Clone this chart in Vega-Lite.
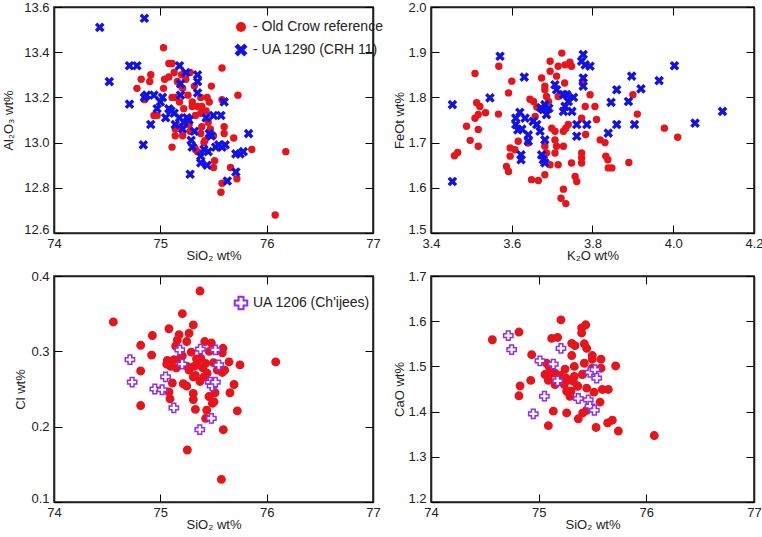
{
  "$schema": "https://vega.github.io/schema/vega-lite/v6.json",
  "padding": {"left": 1, "top": 0, "right": 0, "bottom": 0},
  "config": {
    "view": {"stroke": "#222222", "strokeWidth": 1.6}
  },
  "datasets": {
    "p1": [
      {"series":"- Old Crow reference","SiO2":75.03,"Al2O3":13.42},{"series":"- Old Crow reference","SiO2":75.08,"Al2O3":13.35},{"series":"- Old Crow reference","SiO2":75.11,"Al2O3":13.35},{"series":"- Old Crow reference","SiO2":74.82,"Al2O3":13.28},{"series":"- Old Crow reference","SiO2":74.91,"Al2O3":13.30},{"series":"- Old Crow reference","SiO2":74.90,"Al2O3":13.27},{"series":"- Old Crow reference","SiO2":74.78,"Al2O3":13.24},{"series":"- Old Crow reference","SiO2":75.04,"Al2O3":13.28},{"series":"- Old Crow reference","SiO2":75.08,"Al2O3":13.29},{"series":"- Old Crow reference","SiO2":75.13,"Al2O3":13.31},{"series":"- Old Crow reference","SiO2":75.03,"Al2O3":13.24},{"series":"- Old Crow reference","SiO2":75.14,"Al2O3":13.20},{"series":"- Old Crow reference","SiO2":75.11,"Al2O3":13.20},{"series":"- Old Crow reference","SiO2":75.28,"Al2O3":13.31},{"series":"- Old Crow reference","SiO2":75.24,"Al2O3":13.28},{"series":"- Old Crow reference","SiO2":75.21,"Al2O3":13.24},{"series":"- Old Crow reference","SiO2":75.26,"Al2O3":13.21},{"series":"- Old Crow reference","SiO2":75.30,"Al2O3":13.18},{"series":"- Old Crow reference","SiO2":75.32,"Al2O3":13.25},{"series":"- Old Crow reference","SiO2":75.38,"Al2O3":13.20},{"series":"- Old Crow reference","SiO2":75.44,"Al2O3":13.20},{"series":"- Old Crow reference","SiO2":75.46,"Al2O3":13.18},{"series":"- Old Crow reference","SiO2":75.48,"Al2O3":13.25},{"series":"- Old Crow reference","SiO2":75.58,"Al2O3":13.33},{"series":"- Old Crow reference","SiO2":75.73,"Al2O3":13.21},{"series":"- Old Crow reference","SiO2":75.58,"Al2O3":13.19},{"series":"- Old Crow reference","SiO2":75.22,"Al2O3":13.15},{"series":"- Old Crow reference","SiO2":75.30,"Al2O3":13.16},{"series":"- Old Crow reference","SiO2":75.35,"Al2O3":13.16},{"series":"- Old Crow reference","SiO2":75.39,"Al2O3":13.16},{"series":"- Old Crow reference","SiO2":75.43,"Al2O3":13.14},{"series":"- Old Crow reference","SiO2":75.33,"Al2O3":13.12},{"series":"- Old Crow reference","SiO2":75.38,"Al2O3":13.13},{"series":"- Old Crow reference","SiO2":74.94,"Al2O3":13.12},{"series":"- Old Crow reference","SiO2":74.97,"Al2O3":13.12},{"series":"- Old Crow reference","SiO2":74.85,"Al2O3":13.19},{"series":"- Old Crow reference","SiO2":75.14,"Al2O3":13.06},{"series":"- Old Crow reference","SiO2":75.14,"Al2O3":13.03},{"series":"- Old Crow reference","SiO2":75.21,"Al2O3":13.03},{"series":"- Old Crow reference","SiO2":75.11,"Al2O3":12.98},{"series":"- Old Crow reference","SiO2":75.32,"Al2O3":12.98},{"series":"- Old Crow reference","SiO2":75.33,"Al2O3":12.97},{"series":"- Old Crow reference","SiO2":75.41,"Al2O3":13.00},{"series":"- Old Crow reference","SiO2":75.42,"Al2O3":13.01},{"series":"- Old Crow reference","SiO2":75.35,"Al2O3":12.96},{"series":"- Old Crow reference","SiO2":75.50,"Al2O3":13.03},{"series":"- Old Crow reference","SiO2":75.51,"Al2O3":12.92},{"series":"- Old Crow reference","SiO2":75.50,"Al2O3":12.89},{"series":"- Old Crow reference","SiO2":75.60,"Al2O3":13.07},{"series":"- Old Crow reference","SiO2":75.60,"Al2O3":13.04},{"series":"- Old Crow reference","SiO2":75.69,"Al2O3":13.02},{"series":"- Old Crow reference","SiO2":75.66,"Al2O3":12.89},{"series":"- Old Crow reference","SiO2":75.72,"Al2O3":12.84},{"series":"- Old Crow reference","SiO2":75.58,"Al2O3":12.82},{"series":"- Old Crow reference","SiO2":75.57,"Al2O3":12.78},{"series":"- Old Crow reference","SiO2":75.86,"Al2O3":12.97},{"series":"- Old Crow reference","SiO2":76.18,"Al2O3":12.96},{"series":"- Old Crow reference","SiO2":76.08,"Al2O3":12.68},{"series":"- Old Crow reference","SiO2":75.38,"Al2O3":13.04},{"series":"- Old Crow reference","SiO2":75.39,"Al2O3":13.07},{"series":"- Old Crow reference","SiO2":75.25,"Al2O3":13.10},{"series":"- Old Crow reference","SiO2":75.19,"Al2O3":13.07},{"series":"- Old Crow reference","SiO2":75.27,"Al2O3":13.08},{"series":"- Old Crow reference","SiO2":75.45,"Al2O3":13.09},{"series":"- Old Crow reference","SiO2":75.28,"Al2O3":13.05},{"series":"- Old Crow reference","SiO2":75.47,"Al2O3":13.06},{"series":"- Old Crow reference","SiO2":75.18,"Al2O3":13.18},{"series":"- Old Crow reference","SiO2":75.16,"Al2O3":13.27},{"series":"- Old Crow reference","SiO2":75.20,"Al2O3":13.30},
      {"series":"- UA 1290 (CRH 11)","SiO2":74.43,"Al2O3":13.51},{"series":"- UA 1290 (CRH 11)","SiO2":74.85,"Al2O3":13.55},{"series":"- UA 1290 (CRH 11)","SiO2":74.52,"Al2O3":13.27},{"series":"- UA 1290 (CRH 11)","SiO2":74.71,"Al2O3":13.34},{"series":"- UA 1290 (CRH 11)","SiO2":74.78,"Al2O3":13.34},{"series":"- UA 1290 (CRH 11)","SiO2":74.71,"Al2O3":13.17},{"series":"- UA 1290 (CRH 11)","SiO2":74.85,"Al2O3":13.20},{"series":"- UA 1290 (CRH 11)","SiO2":74.87,"Al2O3":13.21},{"series":"- UA 1290 (CRH 11)","SiO2":74.94,"Al2O3":13.21},{"series":"- UA 1290 (CRH 11)","SiO2":74.91,"Al2O3":13.08},{"series":"- UA 1290 (CRH 11)","SiO2":74.84,"Al2O3":12.99},{"series":"- UA 1290 (CRH 11)","SiO2":74.97,"Al2O3":13.15},{"series":"- UA 1290 (CRH 11)","SiO2":75.02,"Al2O3":13.20},{"series":"- UA 1290 (CRH 11)","SiO2":75.05,"Al2O3":13.11},{"series":"- UA 1290 (CRH 11)","SiO2":75.08,"Al2O3":13.15},{"series":"- UA 1290 (CRH 11)","SiO2":75.13,"Al2O3":13.13},{"series":"- UA 1290 (CRH 11)","SiO2":75.18,"Al2O3":13.34},{"series":"- UA 1290 (CRH 11)","SiO2":75.19,"Al2O3":13.26},{"series":"- UA 1290 (CRH 11)","SiO2":75.19,"Al2O3":13.21},{"series":"- UA 1290 (CRH 11)","SiO2":75.24,"Al2O3":13.31},{"series":"- UA 1290 (CRH 11)","SiO2":75.18,"Al2O3":13.11},{"series":"- UA 1290 (CRH 11)","SiO2":75.14,"Al2O3":13.08},{"series":"- UA 1290 (CRH 11)","SiO2":75.22,"Al2O3":13.09},{"series":"- UA 1290 (CRH 11)","SiO2":75.25,"Al2O3":13.11},{"series":"- UA 1290 (CRH 11)","SiO2":75.21,"Al2O3":13.06},{"series":"- UA 1290 (CRH 11)","SiO2":75.29,"Al2O3":13.01},{"series":"- UA 1290 (CRH 11)","SiO2":75.30,"Al2O3":12.98},{"series":"- UA 1290 (CRH 11)","SiO2":75.28,"Al2O3":12.86},{"series":"- UA 1290 (CRH 11)","SiO2":75.35,"Al2O3":13.30},{"series":"- UA 1290 (CRH 11)","SiO2":75.35,"Al2O3":13.27},{"series":"- UA 1290 (CRH 11)","SiO2":75.35,"Al2O3":13.22},{"series":"- UA 1290 (CRH 11)","SiO2":75.38,"Al2O3":12.94},{"series":"- UA 1290 (CRH 11)","SiO2":75.38,"Al2O3":12.91},{"series":"- UA 1290 (CRH 11)","SiO2":75.44,"Al2O3":12.90},{"series":"- UA 1290 (CRH 11)","SiO2":75.43,"Al2O3":13.11},{"series":"- UA 1290 (CRH 11)","SiO2":75.46,"Al2O3":13.04},{"series":"- UA 1290 (CRH 11)","SiO2":75.48,"Al2O3":13.03},{"series":"- UA 1290 (CRH 11)","SiO2":75.50,"Al2O3":13.12},{"series":"- UA 1290 (CRH 11)","SiO2":75.57,"Al2O3":13.12},{"series":"- UA 1290 (CRH 11)","SiO2":75.60,"Al2O3":13.18},{"series":"- UA 1290 (CRH 11)","SiO2":75.52,"Al2O3":12.98},{"series":"- UA 1290 (CRH 11)","SiO2":75.58,"Al2O3":12.98},{"series":"- UA 1290 (CRH 11)","SiO2":75.61,"Al2O3":12.99},{"series":"- UA 1290 (CRH 11)","SiO2":75.71,"Al2O3":12.95},{"series":"- UA 1290 (CRH 11)","SiO2":75.75,"Al2O3":12.95},{"series":"- UA 1290 (CRH 11)","SiO2":75.78,"Al2O3":12.96},{"series":"- UA 1290 (CRH 11)","SiO2":75.83,"Al2O3":13.04},{"series":"- UA 1290 (CRH 11)","SiO2":75.71,"Al2O3":12.87},{"series":"- UA 1290 (CRH 11)","SiO2":75.63,"Al2O3":12.83},{"series":"- UA 1290 (CRH 11)","SiO2":75.41,"Al2O3":12.97},{"series":"- UA 1290 (CRH 11)","SiO2":75.27,"Al2O3":13.10},{"series":"- UA 1290 (CRH 11)","SiO2":75.32,"Al2O3":13.05},{"series":"- UA 1290 (CRH 11)","SiO2":75.10,"Al2O3":13.14},{"series":"- UA 1290 (CRH 11)","SiO2":75.00,"Al2O3":13.18},{"series":"- UA 1290 (CRH 11)","SiO2":75.45,"Al2O3":12.96},{"series":"- UA 1290 (CRH 11)","SiO2":75.55,"Al2O3":12.99}
    ],
    "p2": [
      {"series":"Old Crow reference","K2O":3.458,"FeOt":1.671},{"series":"Old Crow reference","K2O":3.466,"FeOt":1.678},{"series":"Old Crow reference","K2O":3.488,"FeOt":1.736},{"series":"Old Crow reference","K2O":3.497,"FeOt":1.705},{"series":"Old Crow reference","K2O":3.509,"FeOt":1.853},{"series":"Old Crow reference","K2O":3.509,"FeOt":1.754},{"series":"Old Crow reference","K2O":3.517,"FeOt":1.762},{"series":"Old Crow reference","K2O":3.513,"FeOt":1.788},{"series":"Old Crow reference","K2O":3.521,"FeOt":1.780},{"series":"Old Crow reference","K2O":3.517,"FeOt":1.729},{"series":"Old Crow reference","K2O":3.517,"FeOt":1.692},{"series":"Old Crow reference","K2O":3.535,"FeOt":1.766},{"series":"Old Crow reference","K2O":3.568,"FeOt":1.869},{"series":"Old Crow reference","K2O":3.567,"FeOt":1.763},{"series":"Old Crow reference","K2O":3.592,"FeOt":1.810},{"series":"Old Crow reference","K2O":3.600,"FeOt":1.836},{"series":"Old Crow reference","K2O":3.596,"FeOt":1.688},{"series":"Old Crow reference","K2O":3.596,"FeOt":1.670},{"series":"Old Crow reference","K2O":3.587,"FeOt":1.647},{"series":"Old Crow reference","K2O":3.592,"FeOt":1.636},{"series":"Old Crow reference","K2O":3.608,"FeOt":1.684},{"series":"Old Crow reference","K2O":3.616,"FeOt":1.703},{"series":"Old Crow reference","K2O":3.640,"FeOt":1.699},{"series":"Old Crow reference","K2O":3.645,"FeOt":1.796},{"series":"Old Crow reference","K2O":3.654,"FeOt":1.791},{"series":"Old Crow reference","K2O":3.658,"FeOt":1.758},{"series":"Old Crow reference","K2O":3.662,"FeOt":1.779},{"series":"Old Crow reference","K2O":3.649,"FeOt":1.618},{"series":"Old Crow reference","K2O":3.666,"FeOt":1.616},{"series":"Old Crow reference","K2O":3.674,"FeOt":1.843},{"series":"Old Crow reference","K2O":3.682,"FeOt":1.825},{"series":"Old Crow reference","K2O":3.682,"FeOt":1.817},{"series":"Old Crow reference","K2O":3.686,"FeOt":1.802},{"series":"Old Crow reference","K2O":3.691,"FeOt":1.791},{"series":"Old Crow reference","K2O":3.695,"FeOt":1.880},{"series":"Old Crow reference","K2O":3.695,"FeOt":1.858},{"series":"Old Crow reference","K2O":3.682,"FeOt":1.692},{"series":"Old Crow reference","K2O":3.686,"FeOt":1.677},{"series":"Old Crow reference","K2O":3.682,"FeOt":1.629},{"series":"Old Crow reference","K2O":3.695,"FeOt":1.651},{"series":"Old Crow reference","K2O":3.699,"FeOt":1.732},{"series":"Old Crow reference","K2O":3.707,"FeOt":1.725},{"series":"Old Crow reference","K2O":3.707,"FeOt":1.706},{"series":"Old Crow reference","K2O":3.711,"FeOt":1.692},{"series":"Old Crow reference","K2O":3.707,"FeOt":1.677},{"series":"Old Crow reference","K2O":3.715,"FeOt":1.869},{"series":"Old Crow reference","K2O":3.711,"FeOt":1.847},{"series":"Old Crow reference","K2O":3.715,"FeOt":1.802},{"series":"Old Crow reference","K2O":3.715,"FeOt":1.651},{"series":"Old Crow reference","K2O":3.724,"FeOt":1.898},{"series":"Old Crow reference","K2O":3.728,"FeOt":1.692},{"series":"Old Crow reference","K2O":3.728,"FeOt":1.725},{"series":"Old Crow reference","K2O":3.734,"FeOt":1.732},{"series":"Old Crow reference","K2O":3.731,"FeOt":1.832},{"series":"Old Crow reference","K2O":3.732,"FeOt":1.872},{"series":"Old Crow reference","K2O":3.744,"FeOt":1.878},{"series":"Old Crow reference","K2O":3.748,"FeOt":1.869},{"series":"Old Crow reference","K2O":3.728,"FeOt":1.597},{"series":"Old Crow reference","K2O":3.722,"FeOt":1.577},{"series":"Old Crow reference","K2O":3.734,"FeOt":1.565},{"series":"Old Crow reference","K2O":3.740,"FeOt":1.740},{"series":"Old Crow reference","K2O":3.748,"FeOt":1.655},{"series":"Old Crow reference","K2O":3.757,"FeOt":1.625},{"series":"Old Crow reference","K2O":3.761,"FeOt":1.614},{"series":"Old Crow reference","K2O":3.773,"FeOt":1.754},{"series":"Old Crow reference","K2O":3.773,"FeOt":1.677},{"series":"Old Crow reference","K2O":3.773,"FeOt":1.666},{"series":"Old Crow reference","K2O":3.773,"FeOt":1.655},{"series":"Old Crow reference","K2O":3.775,"FeOt":1.832},{"series":"Old Crow reference","K2O":3.782,"FeOt":1.780},{"series":"Old Crow reference","K2O":3.783,"FeOt":1.718},{"series":"Old Crow reference","K2O":3.794,"FeOt":1.806},{"series":"Old Crow reference","K2O":3.806,"FeOt":1.780},{"series":"Old Crow reference","K2O":3.810,"FeOt":1.751},{"series":"Old Crow reference","K2O":3.819,"FeOt":1.706},{"series":"Old Crow reference","K2O":3.831,"FeOt":1.700},{"series":"Old Crow reference","K2O":3.833,"FeOt":1.670},{"series":"Old Crow reference","K2O":3.838,"FeOt":1.662},{"series":"Old Crow reference","K2O":3.839,"FeOt":1.644},{"series":"Old Crow reference","K2O":3.848,"FeOt":1.644},{"series":"Old Crow reference","K2O":3.890,"FeOt":1.656},{"series":"Old Crow reference","K2O":3.900,"FeOt":1.806},{"series":"Old Crow reference","K2O":3.911,"FeOt":1.763},{"series":"Old Crow reference","K2O":3.978,"FeOt":1.732},{"series":"Old Crow reference","K2O":4.011,"FeOt":1.712},
      {"series":"UA 1290 (CRH 11)","K2O":3.453,"FeOt":1.784},{"series":"UA 1290 (CRH 11)","K2O":3.453,"FeOt":1.614},{"series":"UA 1290 (CRH 11)","K2O":3.571,"FeOt":1.891},{"series":"UA 1290 (CRH 11)","K2O":3.546,"FeOt":1.799},{"series":"UA 1290 (CRH 11)","K2O":3.631,"FeOt":1.845},{"series":"UA 1290 (CRH 11)","K2O":3.620,"FeOt":1.767},{"series":"UA 1290 (CRH 11)","K2O":3.610,"FeOt":1.754},{"series":"UA 1290 (CRH 11)","K2O":3.610,"FeOt":1.740},{"series":"UA 1290 (CRH 11)","K2O":3.615,"FeOt":1.728},{"series":"UA 1290 (CRH 11)","K2O":3.625,"FeOt":1.730},{"series":"UA 1290 (CRH 11)","K2O":3.633,"FeOt":1.754},{"series":"UA 1290 (CRH 11)","K2O":3.641,"FeOt":1.717},{"series":"UA 1290 (CRH 11)","K2O":3.641,"FeOt":1.703},{"series":"UA 1290 (CRH 11)","K2O":3.653,"FeOt":1.747},{"series":"UA 1290 (CRH 11)","K2O":3.662,"FeOt":1.740},{"series":"UA 1290 (CRH 11)","K2O":3.623,"FeOt":1.673},{"series":"UA 1290 (CRH 11)","K2O":3.623,"FeOt":1.662},{"series":"UA 1290 (CRH 11)","K2O":3.670,"FeOt":1.725},{"series":"UA 1290 (CRH 11)","K2O":3.678,"FeOt":1.773},{"series":"UA 1290 (CRH 11)","K2O":3.682,"FeOt":1.784},{"series":"UA 1290 (CRH 11)","K2O":3.672,"FeOt":1.777},{"series":"UA 1290 (CRH 11)","K2O":3.686,"FeOt":1.762},{"series":"UA 1290 (CRH 11)","K2O":3.692,"FeOt":1.776},{"series":"UA 1290 (CRH 11)","K2O":3.674,"FeOt":1.673},{"series":"UA 1290 (CRH 11)","K2O":3.678,"FeOt":1.662},{"series":"UA 1290 (CRH 11)","K2O":3.682,"FeOt":1.655},{"series":"UA 1290 (CRH 11)","K2O":3.682,"FeOt":1.706},{"series":"UA 1290 (CRH 11)","K2O":3.707,"FeOt":1.828},{"series":"UA 1290 (CRH 11)","K2O":3.711,"FeOt":1.817},{"series":"UA 1290 (CRH 11)","K2O":3.728,"FeOt":1.806},{"series":"UA 1290 (CRH 11)","K2O":3.736,"FeOt":1.806},{"series":"UA 1290 (CRH 11)","K2O":3.732,"FeOt":1.780},{"series":"UA 1290 (CRH 11)","K2O":3.740,"FeOt":1.791},{"series":"UA 1290 (CRH 11)","K2O":3.728,"FeOt":1.769},{"series":"UA 1290 (CRH 11)","K2O":3.749,"FeOt":1.769},{"series":"UA 1290 (CRH 11)","K2O":3.753,"FeOt":1.800},{"series":"UA 1290 (CRH 11)","K2O":3.761,"FeOt":1.740},{"series":"UA 1290 (CRH 11)","K2O":3.761,"FeOt":1.714},{"series":"UA 1290 (CRH 11)","K2O":3.777,"FeOt":1.895},{"series":"UA 1290 (CRH 11)","K2O":3.773,"FeOt":1.880},{"series":"UA 1290 (CRH 11)","K2O":3.782,"FeOt":1.872},{"series":"UA 1290 (CRH 11)","K2O":3.794,"FeOt":1.869},{"series":"UA 1290 (CRH 11)","K2O":3.777,"FeOt":1.843},{"series":"UA 1290 (CRH 11)","K2O":3.777,"FeOt":1.825},{"series":"UA 1290 (CRH 11)","K2O":3.786,"FeOt":1.740},{"series":"UA 1290 (CRH 11)","K2O":3.839,"FeOt":1.721},{"series":"UA 1290 (CRH 11)","K2O":3.846,"FeOt":1.789},{"series":"UA 1290 (CRH 11)","K2O":3.860,"FeOt":1.817},{"series":"UA 1290 (CRH 11)","K2O":3.860,"FeOt":1.740},{"series":"UA 1290 (CRH 11)","K2O":3.889,"FeOt":1.791},{"series":"UA 1290 (CRH 11)","K2O":3.897,"FeOt":1.847},{"series":"UA 1290 (CRH 11)","K2O":3.904,"FeOt":1.740},{"series":"UA 1290 (CRH 11)","K2O":3.920,"FeOt":1.819},{"series":"UA 1290 (CRH 11)","K2O":3.965,"FeOt":1.837},{"series":"UA 1290 (CRH 11)","K2O":4.003,"FeOt":1.870},{"series":"UA 1290 (CRH 11)","K2O":4.054,"FeOt":1.743},{"series":"UA 1290 (CRH 11)","K2O":4.122,"FeOt":1.769}
    ],
    "p3": [
      {"series":"Old Crow reference","SiO2":74.558,"Cl":0.339},{"series":"Old Crow reference","SiO2":74.815,"Cl":0.308},{"series":"Old Crow reference","SiO2":74.815,"Cl":0.274},{"series":"Old Crow reference","SiO2":74.815,"Cl":0.228},{"series":"Old Crow reference","SiO2":74.925,"Cl":0.321},{"series":"Old Crow reference","SiO2":74.918,"Cl":0.295},{"series":"Old Crow reference","SiO2":75.081,"Cl":0.330},{"series":"Old Crow reference","SiO2":75.066,"Cl":0.288},{"series":"Old Crow reference","SiO2":75.060,"Cl":0.283},{"series":"Old Crow reference","SiO2":75.097,"Cl":0.280},{"series":"Old Crow reference","SiO2":75.129,"Cl":0.289},{"series":"Old Crow reference","SiO2":75.113,"Cl":0.258},{"series":"Old Crow reference","SiO2":75.081,"Cl":0.246},{"series":"Old Crow reference","SiO2":75.091,"Cl":0.237},{"series":"Old Crow reference","SiO2":75.144,"Cl":0.307},{"series":"Old Crow reference","SiO2":75.176,"Cl":0.322},{"series":"Old Crow reference","SiO2":75.160,"Cl":0.315},{"series":"Old Crow reference","SiO2":75.207,"Cl":0.350},{"series":"Old Crow reference","SiO2":75.207,"Cl":0.294},{"series":"Old Crow reference","SiO2":75.216,"Cl":0.257},{"series":"Old Crow reference","SiO2":75.248,"Cl":0.254},{"series":"Old Crow reference","SiO2":75.248,"Cl":0.313},{"series":"Old Crow reference","SiO2":75.270,"Cl":0.324},{"series":"Old Crow reference","SiO2":75.310,"Cl":0.335},{"series":"Old Crow reference","SiO2":75.290,"Cl":0.299},{"series":"Old Crow reference","SiO2":75.254,"Cl":0.280},{"series":"Old Crow reference","SiO2":75.270,"Cl":0.275},{"series":"Old Crow reference","SiO2":75.317,"Cl":0.280},{"series":"Old Crow reference","SiO2":75.350,"Cl":0.282},{"series":"Old Crow reference","SiO2":75.310,"Cl":0.266},{"series":"Old Crow reference","SiO2":75.330,"Cl":0.268},{"series":"Old Crow reference","SiO2":75.310,"Cl":0.244},{"series":"Old Crow reference","SiO2":75.310,"Cl":0.236},{"series":"Old Crow reference","SiO2":75.330,"Cl":0.223},{"series":"Old Crow reference","SiO2":75.254,"Cl":0.169},{"series":"Old Crow reference","SiO2":75.373,"Cl":0.380},{"series":"Old Crow reference","SiO2":75.380,"Cl":0.291},{"series":"Old Crow reference","SiO2":75.373,"Cl":0.260},{"series":"Old Crow reference","SiO2":75.417,"Cl":0.313},{"series":"Old Crow reference","SiO2":75.426,"Cl":0.284},{"series":"Old Crow reference","SiO2":75.440,"Cl":0.271},{"series":"Old Crow reference","SiO2":75.410,"Cl":0.266},{"series":"Old Crow reference","SiO2":75.457,"Cl":0.240},{"series":"Old Crow reference","SiO2":75.480,"Cl":0.311},{"series":"Old Crow reference","SiO2":75.436,"Cl":0.222},{"series":"Old Crow reference","SiO2":75.426,"Cl":0.211},{"series":"Old Crow reference","SiO2":75.489,"Cl":0.231},{"series":"Old Crow reference","SiO2":75.505,"Cl":0.233},{"series":"Old Crow reference","SiO2":75.514,"Cl":0.245},{"series":"Old Crow reference","SiO2":75.536,"Cl":0.275},{"series":"Old Crow reference","SiO2":75.589,"Cl":0.304},{"series":"Old Crow reference","SiO2":75.583,"Cl":0.298},{"series":"Old Crow reference","SiO2":75.583,"Cl":0.272},{"series":"Old Crow reference","SiO2":75.605,"Cl":0.275},{"series":"Old Crow reference","SiO2":75.592,"Cl":0.196},{"series":"Old Crow reference","SiO2":75.574,"Cl":0.130},{"series":"Old Crow reference","SiO2":75.646,"Cl":0.286},{"series":"Old Crow reference","SiO2":75.655,"Cl":0.245},{"series":"Old Crow reference","SiO2":75.693,"Cl":0.256},{"series":"Old Crow reference","SiO2":75.724,"Cl":0.221},{"series":"Old Crow reference","SiO2":75.749,"Cl":0.282},{"series":"Old Crow reference","SiO2":76.085,"Cl":0.286},{"series":"Old Crow reference","SiO2":75.150,"Cl":0.278},{"series":"Old Crow reference","SiO2":75.180,"Cl":0.290},{"series":"Old Crow reference","SiO2":75.340,"Cl":0.290},{"series":"Old Crow reference","SiO2":75.460,"Cl":0.300},{"series":"Old Crow reference","SiO2":75.500,"Cl":0.285},{"series":"Old Crow reference","SiO2":75.400,"Cl":0.278},
      {"series":"UA 1206 (Ch'ijees)","SiO2":74.714,"Cl":0.289},{"series":"UA 1206 (Ch'ijees)","SiO2":74.735,"Cl":0.259},{"series":"UA 1206 (Ch'ijees)","SiO2":74.948,"Cl":0.250},{"series":"UA 1206 (Ch'ijees)","SiO2":75.017,"Cl":0.249},{"series":"UA 1206 (Ch'ijees)","SiO2":75.049,"Cl":0.266},{"series":"UA 1206 (Ch'ijees)","SiO2":75.127,"Cl":0.225},{"series":"UA 1206 (Ch'ijees)","SiO2":75.183,"Cl":0.302},{"series":"UA 1206 (Ch'ijees)","SiO2":75.205,"Cl":0.283},{"series":"UA 1206 (Ch'ijees)","SiO2":75.377,"Cl":0.303},{"series":"UA 1206 (Ch'ijees)","SiO2":75.518,"Cl":0.302},{"series":"UA 1206 (Ch'ijees)","SiO2":75.549,"Cl":0.282},{"series":"UA 1206 (Ch'ijees)","SiO2":75.470,"Cl":0.259},{"series":"UA 1206 (Ch'ijees)","SiO2":75.486,"Cl":0.254},{"series":"UA 1206 (Ch'ijees)","SiO2":75.518,"Cl":0.259},{"series":"UA 1206 (Ch'ijees)","SiO2":75.480,"Cl":0.211},{"series":"UA 1206 (Ch'ijees)","SiO2":75.371,"Cl":0.196}
    ],
    "p4": [
      {"series":"Old Crow reference","SiO2":74.570,"CaO":1.559},{"series":"Old Crow reference","SiO2":74.817,"CaO":1.576},{"series":"Old Crow reference","SiO2":74.827,"CaO":1.457},{"series":"Old Crow reference","SiO2":74.817,"CaO":1.435},{"series":"Old Crow reference","SiO2":74.935,"CaO":1.526},{"series":"Old Crow reference","SiO2":74.926,"CaO":1.469},{"series":"Old Crow reference","SiO2":75.074,"CaO":1.507},{"series":"Old Crow reference","SiO2":75.059,"CaO":1.482},{"series":"Old Crow reference","SiO2":75.090,"CaO":1.478},{"series":"Old Crow reference","SiO2":75.090,"CaO":1.469},{"series":"Old Crow reference","SiO2":75.090,"CaO":1.369},{"series":"Old Crow reference","SiO2":75.136,"CaO":1.401},{"series":"Old Crow reference","SiO2":75.121,"CaO":1.562},{"series":"Old Crow reference","SiO2":75.176,"CaO":1.564},{"series":"Old Crow reference","SiO2":75.207,"CaO":1.603},{"series":"Old Crow reference","SiO2":75.152,"CaO":1.460},{"series":"Old Crow reference","SiO2":75.152,"CaO":1.485},{"series":"Old Crow reference","SiO2":75.245,"CaO":1.494},{"series":"Old Crow reference","SiO2":75.260,"CaO":1.397},{"series":"Old Crow reference","SiO2":75.238,"CaO":1.460},{"series":"Old Crow reference","SiO2":75.260,"CaO":1.445},{"series":"Old Crow reference","SiO2":75.290,"CaO":1.434},{"series":"Old Crow reference","SiO2":75.307,"CaO":1.551},{"series":"Old Crow reference","SiO2":75.337,"CaO":1.546},{"series":"Old Crow reference","SiO2":75.307,"CaO":1.524},{"series":"Old Crow reference","SiO2":75.331,"CaO":1.500},{"series":"Old Crow reference","SiO2":75.331,"CaO":1.478},{"series":"Old Crow reference","SiO2":75.322,"CaO":1.467},{"series":"Old Crow reference","SiO2":75.362,"CaO":1.456},{"series":"Old Crow reference","SiO2":75.368,"CaO":1.384},{"series":"Old Crow reference","SiO2":75.399,"CaO":1.585},{"series":"Old Crow reference","SiO2":75.437,"CaO":1.592},{"series":"Old Crow reference","SiO2":75.399,"CaO":1.574},{"series":"Old Crow reference","SiO2":75.424,"CaO":1.550},{"series":"Old Crow reference","SiO2":75.446,"CaO":1.540},{"series":"Old Crow reference","SiO2":75.424,"CaO":1.507},{"series":"Old Crow reference","SiO2":75.406,"CaO":1.482},{"series":"Old Crow reference","SiO2":75.446,"CaO":1.452},{"series":"Old Crow reference","SiO2":75.409,"CaO":1.397},{"series":"Old Crow reference","SiO2":75.446,"CaO":1.403},{"series":"Old Crow reference","SiO2":75.498,"CaO":1.524},{"series":"Old Crow reference","SiO2":75.498,"CaO":1.516},{"series":"Old Crow reference","SiO2":75.498,"CaO":1.496},{"series":"Old Crow reference","SiO2":75.514,"CaO":1.443},{"series":"Old Crow reference","SiO2":75.533,"CaO":1.365},{"series":"Old Crow reference","SiO2":75.579,"CaO":1.516},{"series":"Old Crow reference","SiO2":75.579,"CaO":1.496},{"series":"Old Crow reference","SiO2":75.591,"CaO":1.449},{"series":"Old Crow reference","SiO2":75.570,"CaO":1.421},{"series":"Old Crow reference","SiO2":75.647,"CaO":1.449},{"series":"Old Crow reference","SiO2":75.641,"CaO":1.375},{"series":"Old Crow reference","SiO2":75.684,"CaO":1.381},{"series":"Old Crow reference","SiO2":75.715,"CaO":1.501},{"series":"Old Crow reference","SiO2":75.740,"CaO":1.357},{"series":"Old Crow reference","SiO2":76.074,"CaO":1.347},{"series":"Old Crow reference","SiO2":75.280,"CaO":1.470},{"series":"Old Crow reference","SiO2":75.250,"CaO":1.475},{"series":"Old Crow reference","SiO2":75.300,"CaO":1.445},{"series":"Old Crow reference","SiO2":75.200,"CaO":1.480},{"series":"Old Crow reference","SiO2":75.120,"CaO":1.490},{"series":"Old Crow reference","SiO2":75.100,"CaO":1.498},{"series":"Old Crow reference","SiO2":75.360,"CaO":1.457},{"series":"Old Crow reference","SiO2":75.410,"CaO":1.483},
      {"series":"UA 1206 (Ch'ijees)","SiO2":74.718,"CaO":1.568},{"series":"UA 1206 (Ch'ijees)","SiO2":74.749,"CaO":1.537},{"series":"UA 1206 (Ch'ijees)","SiO2":74.950,"CaO":1.395},{"series":"UA 1206 (Ch'ijees)","SiO2":75.012,"CaO":1.512},{"series":"UA 1206 (Ch'ijees)","SiO2":75.053,"CaO":1.434},{"series":"UA 1206 (Ch'ijees)","SiO2":75.136,"CaO":1.505},{"series":"UA 1206 (Ch'ijees)","SiO2":75.176,"CaO":1.468},{"series":"UA 1206 (Ch'ijees)","SiO2":75.207,"CaO":1.540},{"series":"UA 1206 (Ch'ijees)","SiO2":75.368,"CaO":1.429},{"series":"UA 1206 (Ch'ijees)","SiO2":75.461,"CaO":1.426},{"series":"UA 1206 (Ch'ijees)","SiO2":75.477,"CaO":1.487},{"series":"UA 1206 (Ch'ijees)","SiO2":75.523,"CaO":1.493},{"series":"UA 1206 (Ch'ijees)","SiO2":75.539,"CaO":1.474},{"series":"UA 1206 (Ch'ijees)","SiO2":75.477,"CaO":1.412},{"series":"UA 1206 (Ch'ijees)","SiO2":75.517,"CaO":1.403}
    ]
  },
  "columns": 2,
  "spacing": {"row": 43, "column": 58},
  "bounds": "flush",
  "resolve": {"scale": {"shape": "independent", "fill": "independent", "stroke": "independent"}, "legend": {"shape": "independent", "fill": "independent", "stroke": "independent"}},
  "concat": [
    {
      "width": 319, "height": 226,
      "data": {"name": "p1"},
      "resolve": {"axis": {"x": "independent", "y": "independent"}},
      "layer": [
        {
          "mark": {"type": "point", "filled": true, "size": 55, "opacity": 1},
          "encoding": {
            "x": {"field": "SiO2", "type": "quantitative", "scale": {"domain": [74, 77], "nice": false, "zero": false}, "axis": {"orient": "bottom", "values": [74, 75, 76, 77], "format": "d", "labelFlush": false, "title": "SiO₂ wt%", "grid": false, "domain": true, "domainColor": "#222222", "domainWidth": 1.6, "ticks": true, "tickSize": -8, "tickColor": "black", "labelPadding": 12, "labelFont": "Liberation Sans", "labelFontSize": 13, "labelColor": "#222222", "titleFont": "Liberation Sans", "titleFontSize": 13, "titleFontWeight": "normal", "titleColor": "#222222", "titlePadding": -1}},
            "y": {"field": "Al2O3", "type": "quantitative", "scale": {"domain": [12.6, 13.6], "nice": false, "zero": false}, "axis": {"orient": "left", "values": [12.6, 12.8, 13.0, 13.2, 13.4, 13.6], "format": ".1f", "title": "Al₂O₃ wt%", "grid": false, "domain": true, "domainColor": "#222222", "domainWidth": 1.6, "ticks": true, "tickSize": -8, "tickColor": "black", "labelPadding": 13, "labelFont": "Liberation Sans", "labelFontSize": 13, "labelColor": "#222222", "titleFont": "Liberation Sans", "titleFontSize": 13, "titleFontWeight": "normal", "titleColor": "#222222", "titlePadding": 8, "labelBaseline": {"condition": {"test": "datum.index == 0", "value": "alphabetic"}, "value": "middle"}}},
            "shape": {"field": "series", "type": "nominal", "scale": {"domain": ["- Old Crow reference", "- UA 1290 (CRH 11)"], "range": ["circle", "M-1.3,-0.65L-0.65,-1.3L0,-0.65L0.65,-1.3L1.3,-0.65L0.65,0L1.3,0.65L0.65,1.3L0,0.65L-0.65,1.3L-1.3,0.65L-0.65,0Z"]},
              "legend": {"title": null, "orient": "none", "legendX": 180, "legendY": 13, "symbolSize": 100, "rowPadding": 5, "labelOffset": 5, "labelFont": "Liberation Sans", "labelFontSize": 14, "labelColor": "#222222"}},
            "fill": {"field": "series", "type": "nominal", "scale": {"domain": ["- Old Crow reference", "- UA 1290 (CRH 11)"], "range": ["#e8141c", "#1212e6"]},
              "legend": {"title": null, "orient": "none", "legendX": 180, "legendY": 13, "symbolSize": 100, "rowPadding": 5, "labelOffset": 5, "labelFont": "Liberation Sans", "labelFontSize": 14, "labelColor": "#222222"}}
          }
        },
        {
          "mark": {"type": "point", "opacity": 0},
          "encoding": {
            "x": {"field": "SiO2", "type": "quantitative", "scale": {"domain": [74, 77], "nice": false, "zero": false}, "axis": {"orient": "top", "values": [74, 75, 76, 77], "labels": false, "title": null, "grid": false, "domain": true, "domainColor": "#222222", "domainWidth": 1.6, "ticks": true, "tickSize": -8, "tickColor": "black", "minExtent": 0, "maxExtent": 0}},
            "y": {"field": "Al2O3", "type": "quantitative", "scale": {"domain": [12.6, 13.6], "nice": false, "zero": false}, "axis": {"orient": "right", "values": [12.6, 12.8, 13.0, 13.2, 13.4, 13.6], "labels": false, "title": null, "grid": false, "domain": true, "domainColor": "#222222", "domainWidth": 1.6, "ticks": true, "tickSize": -8, "tickColor": "black", "minExtent": 0, "maxExtent": 0}}
          }
        }
      ]
    },
    {
      "width": 323, "height": 226,
      "data": {"name": "p2"},
      "resolve": {"axis": {"x": "independent", "y": "independent"}},
      "layer": [
        {
          "mark": {"type": "point", "filled": true, "size": 55, "opacity": 1},
          "encoding": {
            "x": {"field": "K2O", "type": "quantitative", "scale": {"domain": [3.4, 4.2], "nice": false, "zero": false}, "axis": {"orient": "bottom", "values": [3.4, 3.6, 3.8, 4.0, 4.2], "format": ".1f", "labelFlush": false, "title": "K₂O wt%", "grid": false, "domain": true, "domainColor": "#222222", "domainWidth": 1.6, "ticks": true, "tickSize": -8, "tickColor": "black", "labelPadding": 12, "labelFont": "Liberation Sans", "labelFontSize": 13, "labelColor": "#222222", "titleFont": "Liberation Sans", "titleFontSize": 13, "titleFontWeight": "normal", "titleColor": "#222222", "titlePadding": -1}},
            "y": {"field": "FeOt", "type": "quantitative", "scale": {"domain": [1.5, 2.0], "nice": false, "zero": false}, "axis": {"orient": "left", "values": [1.5, 1.6, 1.7, 1.8, 1.9, 2.0], "format": ".1f", "title": "FeOt wt%", "grid": false, "domain": true, "domainColor": "#222222", "domainWidth": 1.6, "ticks": true, "tickSize": -8, "tickColor": "black", "labelPadding": 13, "labelFont": "Liberation Sans", "labelFontSize": 13, "labelColor": "#222222", "titleFont": "Liberation Sans", "titleFontSize": 13, "titleFontWeight": "normal", "titleColor": "#222222", "titlePadding": 1, "labelBaseline": {"condition": {"test": "datum.index == 0", "value": "alphabetic"}, "value": "middle"}}},
            "shape": {"field": "series", "type": "nominal", "scale": {"domain": ["Old Crow reference", "UA 1290 (CRH 11)"], "range": ["circle", "M-1.3,-0.65L-0.65,-1.3L0,-0.65L0.65,-1.3L1.3,-0.65L0.65,0L1.3,0.65L0.65,1.3L0,0.65L-0.65,1.3L-1.3,0.65L-0.65,0Z"]}, "legend": null},
            "fill": {"field": "series", "type": "nominal", "scale": {"domain": ["Old Crow reference", "UA 1290 (CRH 11)"], "range": ["#e8141c", "#1212e6"]}, "legend": null}
          }
        },
        {
          "mark": {"type": "point", "opacity": 0},
          "encoding": {
            "x": {"field": "K2O", "type": "quantitative", "scale": {"domain": [3.4, 4.2], "nice": false, "zero": false}, "axis": {"orient": "top", "values": [3.4, 3.6, 3.8, 4.0, 4.2], "labels": false, "title": null, "grid": false, "domain": true, "domainColor": "#222222", "domainWidth": 1.6, "ticks": true, "tickSize": -8, "tickColor": "black", "minExtent": 0, "maxExtent": 0}},
            "y": {"field": "FeOt", "type": "quantitative", "scale": {"domain": [1.5, 2.0], "nice": false, "zero": false}, "axis": {"orient": "right", "values": [1.5, 1.6, 1.7, 1.8, 1.9, 2.0], "labels": false, "title": null, "grid": false, "domain": true, "domainColor": "#222222", "domainWidth": 1.6, "ticks": true, "tickSize": -8, "tickColor": "black", "minExtent": 0, "maxExtent": 0}}
          }
        }
      ]
    },
    {
      "width": 319, "height": 226,
      "data": {"name": "p3"},
      "resolve": {"axis": {"x": "independent", "y": "independent"}},
      "layer": [
        {
          "mark": {"type": "point", "filled": true, "size": 55, "strokeWidth": 1.5, "opacity": 1},
          "encoding": {
            "x": {"field": "SiO2", "type": "quantitative", "scale": {"domain": [74, 77], "nice": false, "zero": false}, "axis": {"orient": "bottom", "values": [74, 75, 76, 77], "format": "d", "labelFlush": false, "title": "SiO₂ wt%", "grid": false, "domain": true, "domainColor": "#222222", "domainWidth": 1.6, "ticks": true, "tickSize": -8, "tickColor": "black", "labelPadding": 12, "labelFont": "Liberation Sans", "labelFontSize": 13, "labelColor": "#222222", "titleFont": "Liberation Sans", "titleFontSize": 13, "titleFontWeight": "normal", "titleColor": "#222222", "titlePadding": -1}},
            "y": {"field": "Cl", "type": "quantitative", "scale": {"domain": [0.1, 0.4], "nice": false, "zero": false}, "axis": {"orient": "left", "values": [0.1, 0.2, 0.3, 0.4], "format": ".1f", "title": "Cl wt%", "grid": false, "domain": true, "domainColor": "#222222", "domainWidth": 1.6, "ticks": true, "tickSize": -8, "tickColor": "black", "labelPadding": 13, "labelFont": "Liberation Sans", "labelFontSize": 13, "labelColor": "#222222", "titleFont": "Liberation Sans", "titleFontSize": 13, "titleFontWeight": "normal", "titleColor": "#222222", "titlePadding": 3, "labelBaseline": {"condition": {"test": "datum.index == 0", "value": "alphabetic"}, "value": "middle"}}},
            "shape": {"field": "series", "type": "nominal", "scale": {"domain": ["Old Crow reference", "UA 1206 (Ch'ijees)"], "range": ["circle", "M-0.5,-1.25L0.5,-1.25L0.5,-0.5L1.25,-0.5L1.25,0.5L0.5,0.5L0.5,1.25L-0.5,1.25L-0.5,0.5L-1.25,0.5L-1.25,-0.5L-0.5,-0.5Z"]},
              "legend": {"title": null, "orient": "none", "legendX": 180, "legendY": 20, "symbolSize": 100, "symbolStrokeWidth": 2, "labelOffset": 5, "values": ["UA 1206 (Ch'ijees)"], "labelFont": "Liberation Sans", "labelFontSize": 14, "labelColor": "#222222",
                "encode": {"symbols": {"update": {"fill": {"value": "#ffffff"}, "stroke": {"value": "#8f2ef0"}}}}}},
            "fill": {"field": "series", "type": "nominal", "scale": {"domain": ["Old Crow reference", "UA 1206 (Ch'ijees)"], "range": ["#e8141c", "#ffffff"]}, "legend": null},
            "stroke": {"field": "series", "type": "nominal", "scale": {"domain": ["Old Crow reference", "UA 1206 (Ch'ijees)"], "range": ["#e8141c", "#8f2ef0"]}, "legend": null}
          }
        },
        {
          "mark": {"type": "point", "opacity": 0},
          "encoding": {
            "x": {"field": "SiO2", "type": "quantitative", "scale": {"domain": [74, 77], "nice": false, "zero": false}, "axis": {"orient": "top", "values": [74, 75, 76, 77], "labels": false, "title": null, "grid": false, "domain": true, "domainColor": "#222222", "domainWidth": 1.6, "ticks": true, "tickSize": -8, "tickColor": "black", "minExtent": 0, "maxExtent": 0}},
            "y": {"field": "Cl", "type": "quantitative", "scale": {"domain": [0.1, 0.4], "nice": false, "zero": false}, "axis": {"orient": "right", "values": [0.1, 0.2, 0.3, 0.4], "labels": false, "title": null, "grid": false, "domain": true, "domainColor": "#222222", "domainWidth": 1.6, "ticks": true, "tickSize": -8, "tickColor": "black", "minExtent": 0, "maxExtent": 0}}
          }
        }
      ]
    },
    {
      "width": 323, "height": 226,
      "data": {"name": "p4"},
      "resolve": {"axis": {"x": "independent", "y": "independent"}},
      "layer": [
        {
          "mark": {"type": "point", "filled": true, "size": 55, "strokeWidth": 1.5, "opacity": 1},
          "encoding": {
            "x": {"field": "SiO2", "type": "quantitative", "scale": {"domain": [74, 77], "nice": false, "zero": false}, "axis": {"orient": "bottom", "values": [74, 75, 76, 77], "format": "d", "labelFlush": false, "title": "SiO₂ wt%", "grid": false, "domain": true, "domainColor": "#222222", "domainWidth": 1.6, "ticks": true, "tickSize": -8, "tickColor": "black", "labelPadding": 12, "labelFont": "Liberation Sans", "labelFontSize": 13, "labelColor": "#222222", "titleFont": "Liberation Sans", "titleFontSize": 13, "titleFontWeight": "normal", "titleColor": "#222222", "titlePadding": -1}},
            "y": {"field": "CaO", "type": "quantitative", "scale": {"domain": [1.2, 1.7], "nice": false, "zero": false}, "axis": {"orient": "left", "values": [1.2, 1.3, 1.4, 1.5, 1.6, 1.7], "format": ".1f", "title": "CaO wt%", "grid": false, "domain": true, "domainColor": "#222222", "domainWidth": 1.6, "ticks": true, "tickSize": -8, "tickColor": "black", "labelPadding": 13, "labelFont": "Liberation Sans", "labelFontSize": 13, "labelColor": "#222222", "titleFont": "Liberation Sans", "titleFontSize": 13, "titleFontWeight": "normal", "titleColor": "#222222", "titlePadding": 1, "labelBaseline": {"condition": {"test": "datum.index == 0", "value": "alphabetic"}, "value": "middle"}}},
            "shape": {"field": "series", "type": "nominal", "scale": {"domain": ["Old Crow reference", "UA 1206 (Ch'ijees)"], "range": ["circle", "M-0.5,-1.25L0.5,-1.25L0.5,-0.5L1.25,-0.5L1.25,0.5L0.5,0.5L0.5,1.25L-0.5,1.25L-0.5,0.5L-1.25,0.5L-1.25,-0.5L-0.5,-0.5Z"]}, "legend": null},
            "fill": {"field": "series", "type": "nominal", "scale": {"domain": ["Old Crow reference", "UA 1206 (Ch'ijees)"], "range": ["#e8141c", "#ffffff"]}, "legend": null},
            "stroke": {"field": "series", "type": "nominal", "scale": {"domain": ["Old Crow reference", "UA 1206 (Ch'ijees)"], "range": ["#e8141c", "#8f2ef0"]}, "legend": null}
          }
        },
        {
          "mark": {"type": "point", "opacity": 0},
          "encoding": {
            "x": {"field": "SiO2", "type": "quantitative", "scale": {"domain": [74, 77], "nice": false, "zero": false}, "axis": {"orient": "top", "values": [74, 75, 76, 77], "labels": false, "title": null, "grid": false, "domain": true, "domainColor": "#222222", "domainWidth": 1.6, "ticks": true, "tickSize": -8, "tickColor": "black", "minExtent": 0, "maxExtent": 0}},
            "y": {"field": "CaO", "type": "quantitative", "scale": {"domain": [1.2, 1.7], "nice": false, "zero": false}, "axis": {"orient": "right", "values": [1.2, 1.3, 1.4, 1.5, 1.6, 1.7], "labels": false, "title": null, "grid": false, "domain": true, "domainColor": "#222222", "domainWidth": 1.6, "ticks": true, "tickSize": -8, "tickColor": "black", "minExtent": 0, "maxExtent": 0}}
          }
        }
      ]
    }
  ]
}
